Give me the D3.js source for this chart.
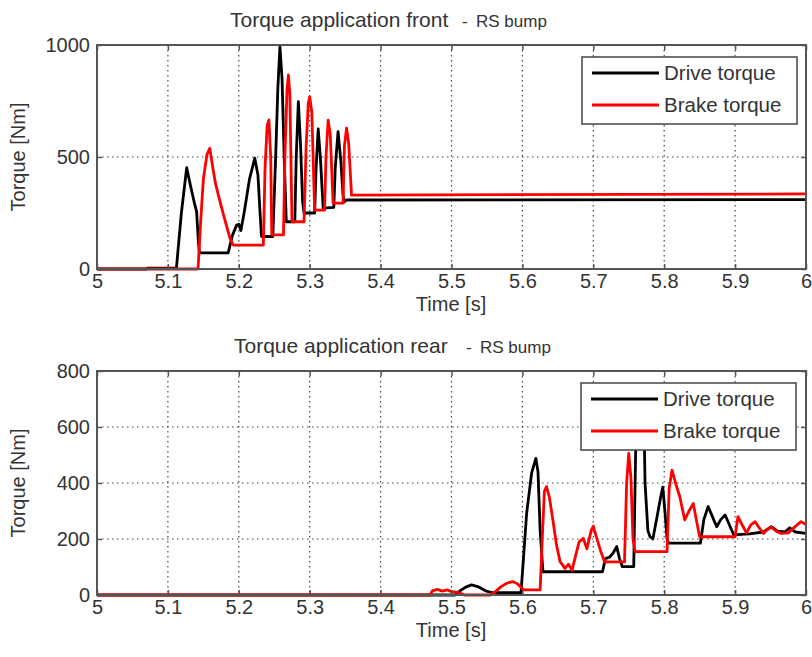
<!DOCTYPE html>
<html>
<head>
<meta charset="utf-8">
<script src="https://cdn.jsdelivr.net/npm/d3@7"></script>
<style>
  body { margin: 0; background: #fff; }
  svg text { font-family: "Liberation Sans", Arial, sans-serif; fill: #333; }
</style>
</head>
<body>
<div id="visuals"></div>
<script>
// time ticks shared by both panels
var timeTicks = [5, 5.1, 5.2, 5.3, 5.4, 5.5, 5.6, 5.7, 5.8, 5.9, 6];
var frontTicks = [0, 500, 1000];
var rearTicks = [0, 200, 400, 600, 800];
var seriesNames = ["Drive torque", "Brake torque"];

// [time s, torque Nm]
var driveFront = [[5.000,0],[5.070,0],[5.071,4],[5.112,4],[5.119,250],[5.1265,452],[5.132,370],[5.137,300],
  [5.1405,256],[5.143,120],[5.1445,72],[5.185,72],[5.191,150],[5.197,196],[5.200,200],[5.203,172],[5.208,260],
  [5.215,400],[5.2225,495],[5.227,420],[5.230,250],[5.232,145],[5.248,145],[5.252,500],[5.255,800],[5.258,993],
  [5.261,850],[5.264,500],[5.267,211],[5.279,211],[5.281,500],[5.284,747],[5.287,560],[5.290,300],[5.292,250],
  [5.307,250],[5.309,450],[5.312,625],[5.315,500],[5.319,272],[5.334,275],[5.336,450],[5.340,613],[5.344,480],
  [5.347,330],[5.349,300],[5.352,308],[6.000,310]];
var brakeFront = [[5.000,0],[5.1425,0],[5.146,200],[5.150,400],[5.155,510],[5.159,539],[5.163,460],[5.167,383],
  [5.172,320],[5.176,271],[5.182,200],[5.1876,137],[5.192,107],[5.2346,107],[5.237,450],[5.240,640],[5.2425,665],
  [5.245,500],[5.2465,152],[5.263,152],[5.265,500],[5.268,800],[5.270,866],[5.272,780],[5.275,211],[5.292,211],
  [5.295,550],[5.298,740],[5.300,769],[5.303,700],[5.307,263],[5.321,263],[5.323,500],[5.326,665],[5.329,600],
  [5.333,294],[5.347,294],[5.349,550],[5.352,629],[5.355,560],[5.359,330],[6.000,335]];

// [time s, torque Nm]
var driveRear = [[5.0,0],[5.505,0],[5.512,15],[5.520,28],[5.528,36],[5.537,30],[5.548,15],[5.558,8],[5.598,8],
  [5.601,113],[5.606,292],[5.613,435],[5.619,488],[5.622,440],[5.625,232],[5.629,83],[5.713,83],[5.717,130],
  [5.723,135],[5.728,150],[5.733,173],[5.737,130],[5.741,101],[5.757,101],[5.759,400],[5.761,700],[5.771,700],
  [5.773,400],[5.777,230],[5.780,208],[5.784,200],[5.790,280],[5.795,350],[5.798,385],[5.801,300],[5.804,200],
  [5.806,185],[5.851,185],[5.856,270],[5.862,316],[5.868,280],[5.874,244],[5.880,270],[5.886,286],[5.892,250],
  [5.898,215],[5.920,218],[5.940,225],[5.951,244],[5.960,228],[5.970,225],[5.977,240],[5.985,225],[6.000,220]];
var brakeRear = [[5.0,0],[5.470,0],[5.473,15],[5.480,20],[5.487,14],[5.494,18],[5.500,12],[5.508,10],[5.515,3],
  [5.518,0],[5.555,0],[5.562,12],[5.570,30],[5.578,42],[5.586,48],[5.593,40],[5.600,22],[5.603,18],[5.625,18],
  [5.628,200],[5.631,370],[5.634,387],[5.638,350],[5.643,268],[5.648,180],[5.653,120],[5.660,95],[5.665,110],
  [5.670,88],[5.675,140],[5.680,190],[5.686,202],[5.691,165],[5.697,230],[5.700,246],[5.704,210],[5.710,160],
  [5.716,118],[5.744,118],[5.747,400],[5.750,506],[5.753,420],[5.756,200],[5.759,155],[5.804,155],[5.807,380],
  [5.811,446],[5.816,400],[5.822,351],[5.829,268],[5.835,300],[5.841,327],[5.846,260],[5.850,208],[5.900,208],
  [5.904,280],[5.910,250],[5.916,222],[5.922,250],[5.928,262],[5.934,240],[5.940,220],[5.946,235],[5.951,242],
  [5.958,228],[5.965,220],[5.975,222],[5.985,245],[5.993,262],[6.000,252]];

var width = 812, height = 657;
var svg = d3.select("#visuals").append("svg")
    .attr("width", width)
    .attr("height", height);

// one panel = box, grid, ticks, two traces, legend
function panel(opt) {
    var x = d3.scaleLinear().domain([5, 6]).range([97, 806]);
    var y = d3.scaleLinear().domain([0, opt.ymax]).range([opt.bottom, opt.top]);
    var g = svg.append("g");

    // dotted grid
    g.selectAll(".vgrid").data(timeTicks.slice(1, -1)).join("line")
        .attr("x1", d => x(d)).attr("x2", d => x(d))
        .attr("y1", opt.top).attr("y2", opt.bottom)
        .attr("stroke", "#444").attr("stroke-width", 1.2).attr("stroke-dasharray", "1.5,3.5");
    g.selectAll(".hgrid").data(opt.yticks.slice(1, -1)).join("line")
        .attr("x1", 97).attr("x2", 806)
        .attr("y1", d => y(d)).attr("y2", d => y(d))
        .attr("stroke", "#444").attr("stroke-width", 1.2).attr("stroke-dasharray", "1.5,3.5");

    var line = d3.line().x(d => x(d[0])).y(d => y(d[1]));
    g.append("path").datum(opt.drive).attr("d", line)
        .attr("fill", "none").attr("stroke", "#000").attr("stroke-width", 2.8).attr("stroke-linejoin", "round");
    g.append("path").datum(opt.brake).attr("d", line)
        .attr("fill", "none").attr("stroke", "#ff0000").attr("stroke-width", 2.8).attr("stroke-linejoin", "round");

    // axes: ticks drawn inward like matlab
    var fmt = d => String(+d.toFixed(1));
    var xb = g.append("g").attr("transform", "translate(0," + opt.bottom + ")")
        .call(d3.axisBottom(x).tickValues(timeTicks).tickSize(-5).tickPadding(5).tickFormat(fmt));
    var xt = g.append("g").attr("transform", "translate(0," + opt.top + ")")
        .call(d3.axisTop(x).tickValues(timeTicks).tickSize(-5).tickFormat(""));
    var yl = g.append("g").attr("transform", "translate(97,0)")
        .call(d3.axisLeft(y).tickValues(opt.yticks).tickSize(-5).tickPadding(7).tickFormat(d3.format("d")));
    var yr = g.append("g").attr("transform", "translate(806,0)")
        .call(d3.axisRight(y).tickValues(opt.yticks).tickSize(-5).tickFormat(""));
    [xb, xt, yl, yr].forEach(function(a) {
        a.select(".domain").remove();
        a.selectAll("line").attr("stroke", "#555").attr("stroke-width", 1.5);
        a.selectAll("text").attr("font-size", "20px").attr("fill", "#333")
            .style("font-family", "'Liberation Sans', Arial, sans-serif");
    });

    g.append("rect")
        .attr("x", 97).attr("y", opt.top)
        .attr("width", 806 - 97).attr("height", opt.bottom - opt.top)
        .attr("fill", "none").attr("stroke", "#555").attr("stroke-width", 2);

    // titles and labels
    var t = g.append("text").attr("x", opt.titleX).attr("y", opt.top - 18).attr("font-size", "21px");
    t.append("tspan").text(opt.title);
    t.append("tspan").attr("x", opt.titleX + 232).attr("font-size", "17px").text("-");
    t.append("tspan").attr("x", opt.titleX + 246).attr("font-size", "17px").text("RS bump");

    g.append("text").attr("x", 451).attr("y", opt.bottom + 42)
        .attr("text-anchor", "middle").attr("font-size", "20px").text("Time [s]");
    g.append("text")
        .attr("transform", "translate(25," + (opt.top + opt.bottom) / 2 + ") rotate(-90)")
        .attr("text-anchor", "middle").attr("font-size", "20px").text("Torque [Nm]");

    // legend
    var lg = g.append("g").attr("transform", "translate(" + opt.legX + "," + opt.legY + ")");
    lg.append("rect").attr("width", 215).attr("height", 67)
        .attr("fill", "#fff").attr("stroke", "#444").attr("stroke-width", 1.5);
    var colors = ["#000", "#ff0000"];
    seriesNames.forEach(function(name, i) {
        lg.append("line").attr("x1", 10).attr("x2", 77)
            .attr("y1", 16 + i * 32).attr("y2", 16 + i * 32)
            .attr("stroke", colors[i]).attr("stroke-width", 2.8);
        lg.append("text").attr("x", 82).attr("y", 16 + i * 32).attr("dy", "0.35em")
            .attr("font-size", "20.5px").text(name);
    });
}

panel({ top: 45, bottom: 269, ymax: 1000, yticks: frontTicks, drive: driveFront, brake: brakeFront,
        title: "Torque application front", titleX: 230, legX: 582, legY: 57 });
panel({ top: 371, bottom: 595, ymax: 800, yticks: rearTicks, drive: driveRear, brake: brakeRear,
        title: "Torque application rear", titleX: 234, legX: 581, legY: 383 });
</script>
</body>
</html>
